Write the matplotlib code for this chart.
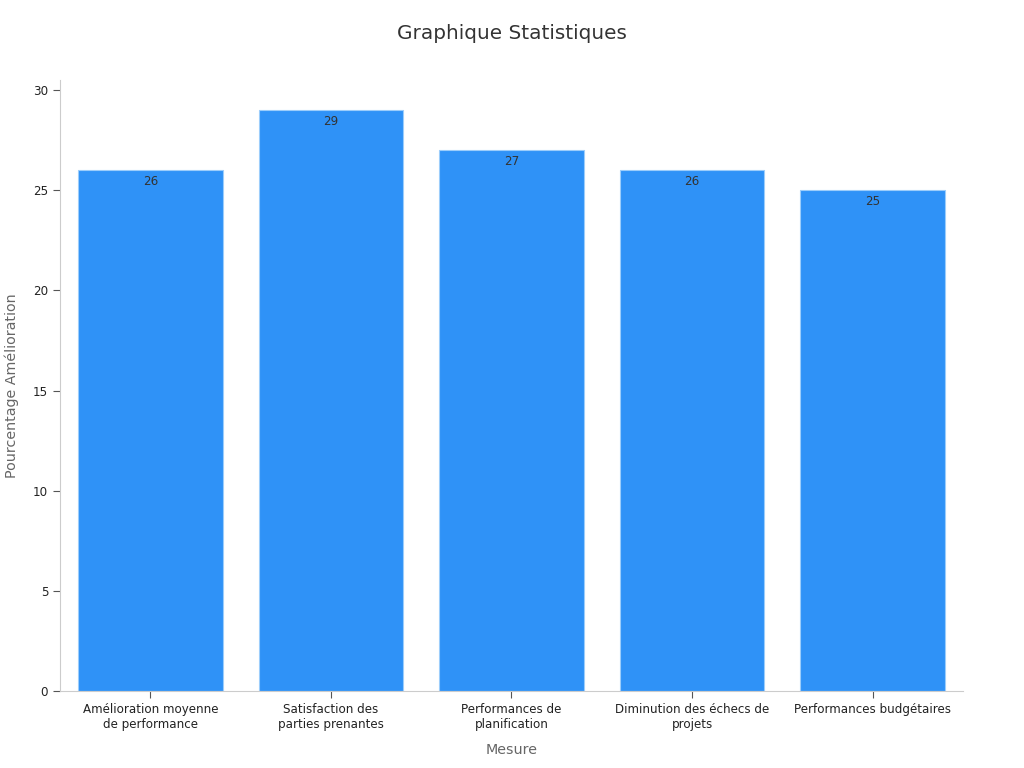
import matplotlib
matplotlib.use("Agg")
import matplotlib.pyplot as plt

categories = ["Amélioration moyenne\nde performance", "Satisfaction des\nparties prenantes",
              "Performances de\nplanification", "Diminution des échecs de\nprojets",
              "Performances budgétaires"]
values = [26, 29, 27, 26, 25]
yticks = [0, 5, 10, 15, 20, 25, 30]

plt.rcParams['font.family'] = ['DejaVu Sans']
fig = plt.figure(figsize=(10.24, 7.68), dpi=100)
ax = fig.add_axes([0.0586, 0.1003, 0.8818, 0.7955])

x = range(len(categories))
bars = ax.bar(x, values, width=0.8, color="#2f92f7", edgecolor="#9ccdfb", linewidth=0.8, zorder=2)
for xi, v in zip(x, values):
    ax.text(xi, v - 0.25, str(v), ha="center", va="top", fontsize=8.6, color="#333333", zorder=3)

ax.set_xlim(-0.5, len(categories) - 0.5)
ax.set_ylim(0, 30.5)
ax.set_yticks(yticks)
ax.set_xticks(list(x))
ax.set_xticklabels(categories, fontsize=8.6, color="#222222")
ax.tick_params(axis="y", labelsize=8.6, colors="#222222", length=5, color="#555555")
ax.tick_params(axis="x", length=5, color="#555555")
for s in ["top", "right"]:
    ax.spines[s].set_visible(False)
for s in ["left", "bottom"]:
    ax.spines[s].set_color("#cccccc")
ax.set_xlabel("Mesure", fontsize=10.3, color="#666666", labelpad=9)
ax.set_ylabel("Pourcentage Amélioration", fontsize=10.3, color="#666666", labelpad=10)
fig.text(0.5, 0.957, "Graphique Statistiques", ha="center", va="center", fontsize=14.4, color="#333333")

fig.savefig("out.png", dpi=100)
